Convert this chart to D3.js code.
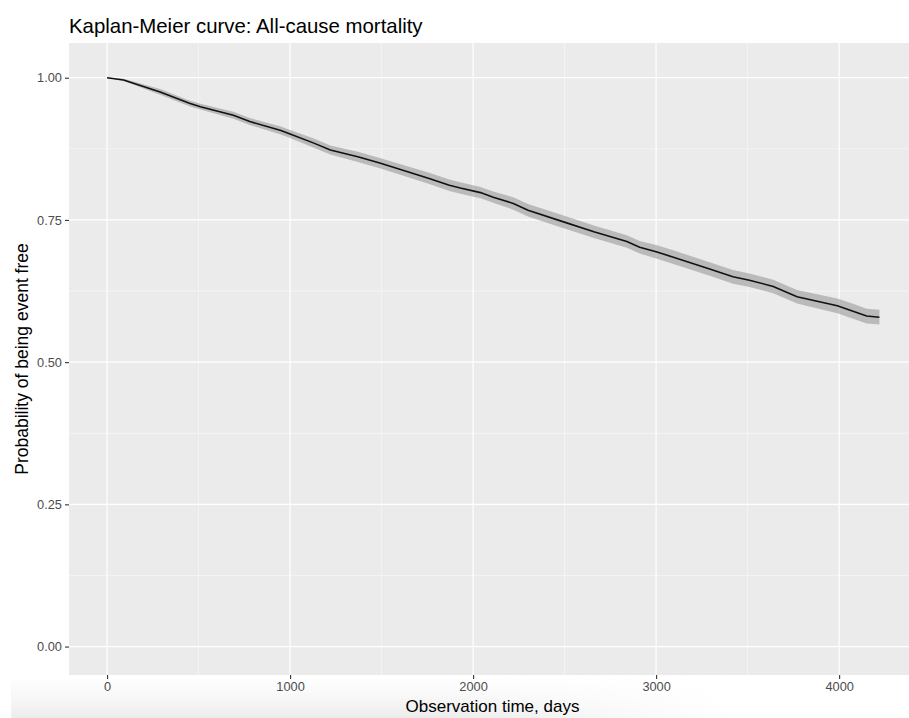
<!DOCTYPE html>
<html>
<head>
<meta charset="utf-8">
<script src="https://cdn.jsdelivr.net/npm/d3@7"></script>
<style>
  body { margin: 0; background: #ffffff; }
  svg { display: block; font-family: 'Liberation Sans', Arial, sans-serif; }
</style>
</head>
<body>
<div id="chart"></div>
<script>
// survival estimates
var days = [0, 90, 290, 450, 510, 690, 780, 950, 1000, 1130, 1220, 1370, 1490, 1760, 1870, 1930,
    2040, 2110, 2220, 2300, 2490, 2660, 2840, 2910, 3000, 3090, 3280, 3420, 3510, 3640, 3770,
    3990, 4080, 4150, 4220];
var survival = [1.000, 0.996, 0.975, 0.955, 0.949, 0.934, 0.923, 0.907, 0.901, 0.885, 0.873, 0.861,
    0.850, 0.823, 0.811, 0.806, 0.798, 0.790, 0.779, 0.767, 0.747, 0.729, 0.712, 0.702, 0.694,
    0.685, 0.665, 0.650, 0.644, 0.633, 0.615, 0.599, 0.589, 0.581, 0.579];
var lower = [1.000, 0.994, 0.970, 0.950, 0.944, 0.928, 0.917, 0.900, 0.894, 0.877, 0.865, 0.852,
    0.841, 0.813, 0.801, 0.796, 0.788, 0.780, 0.768, 0.756, 0.736, 0.718, 0.701, 0.691, 0.682,
    0.673, 0.653, 0.638, 0.632, 0.621, 0.603, 0.586, 0.576, 0.568, 0.566];
var upper = [1.000, 0.998, 0.980, 0.960, 0.954, 0.940, 0.929, 0.914, 0.908, 0.893, 0.881, 0.870,
    0.859, 0.833, 0.821, 0.816, 0.808, 0.800, 0.790, 0.778, 0.758, 0.740, 0.723, 0.713, 0.706,
    0.697, 0.677, 0.662, 0.656, 0.645, 0.627, 0.612, 0.602, 0.594, 0.592];

var xTicks = [0, 1000, 2000, 3000, 4000];
var xMinor = [500, 1500, 2500, 3500];
var yTicks = [0, 0.25, 0.5, 0.75, 1];
var yMinor = [0.125, 0.375, 0.625, 0.875];

var width = 909, height = 718;
var panel = { left: 69, top: 43, right: 916, bottom: 675 };

var svg = d3.select('#chart')
    .append('svg')
    .attr('width', width)
    .attr('height', height);

var x = d3.scaleLinear().domain([-208, 4420]).range([panel.left, panel.right]);
var y = d3.scaleLinear().domain([-0.05, 1.061]).range([panel.bottom, panel.top]);

// faint shadow along the bottom of the screenshot
var defs = svg.append('defs');
var grad = defs.append('linearGradient')
    .attr('id', 'shade').attr('x1', 0).attr('y1', 0).attr('x2', 0).attr('y2', 1);
grad.append('stop').attr('offset', '0%').attr('stop-color', '#f2f2f2').attr('stop-opacity', 0);
grad.append('stop').attr('offset', '100%').attr('stop-color', '#ececec').attr('stop-opacity', 1);
var fade = defs.append('linearGradient')
    .attr('id', 'fade').attr('x1', 0).attr('y1', 0).attr('x2', 1).attr('y2', 0);
fade.append('stop').attr('offset', '0%').attr('stop-color', '#fff').attr('stop-opacity', 1);
fade.append('stop').attr('offset', '60%').attr('stop-color', '#fff').attr('stop-opacity', 1);
fade.append('stop').attr('offset', '100%').attr('stop-color', '#fff').attr('stop-opacity', 0);
var mask = defs.append('mask').attr('id', 'shadeMask');
mask.append('rect').attr('x', 11).attr('y', 677).attr('width', 720).attr('height', 41)
    .attr('fill', 'url(#fade)');
svg.append('rect')
    .attr('x', 11).attr('y', 677).attr('width', 720).attr('height', 41)
    .attr('fill', 'url(#shade)')
    .attr('mask', 'url(#shadeMask)');

// panel background
svg.append('rect')
    .attr('x', panel.left)
    .attr('y', panel.top)
    .attr('width', panel.right - panel.left)
    .attr('height', panel.bottom - panel.top)
    .attr('fill', '#ebebeb');

var grid = svg.append('g');
grid.selectAll('.xminor').data(xMinor).enter().append('line')
    .attr('x1', function (d) { return x(d); }).attr('x2', function (d) { return x(d); })
    .attr('y1', panel.top).attr('y2', panel.bottom)
    .attr('stroke', '#fafafa').attr('stroke-width', 0.6);
grid.selectAll('.yminor').data(yMinor).enter().append('line')
    .attr('y1', function (d) { return y(d); }).attr('y2', function (d) { return y(d); })
    .attr('x1', panel.left).attr('x2', panel.right)
    .attr('stroke', '#fafafa').attr('stroke-width', 0.6);
grid.selectAll('.xmajor').data(xTicks).enter().append('line')
    .attr('x1', function (d) { return x(d); }).attr('x2', function (d) { return x(d); })
    .attr('y1', panel.top).attr('y2', panel.bottom)
    .attr('stroke', '#ffffff').attr('stroke-width', 1.2);
grid.selectAll('.ymajor').data(yTicks).enter().append('line')
    .attr('y1', function (d) { return y(d); }).attr('y2', function (d) { return y(d); })
    .attr('x1', panel.left).attr('x2', panel.right)
    .attr('stroke', '#ffffff').attr('stroke-width', 1.2);

var rows = days.map(function (d, i) {
    return { t: d, s: survival[i], lo: lower[i], hi: upper[i] };
});

var band = d3.area()
    .x(function (d) { return x(d.t); })
    .y0(function (d) { return y(d.lo); })
    .y1(function (d) { return y(d.hi); });
svg.append('path')
    .datum(rows)
    .attr('d', band)
    .attr('fill', '#9a9a9a')
    .attr('fill-opacity', 0.6);

var line = d3.line()
    .x(function (d) { return x(d.t); })
    .y(function (d) { return y(d.s); });
svg.append('path')
    .datum(rows)
    .attr('d', line)
    .attr('fill', 'none')
    .attr('stroke', '#111')
    .attr('stroke-width', 1.6);

// axes
var xAxis = svg.append('g')
    .attr('transform', 'translate(0,' + panel.bottom + ')')
    .call(d3.axisBottom(x).tickValues(xTicks).tickSize(4).tickPadding(3).tickFormat(d3.format('d')));
var yAxis = svg.append('g')
    .attr('transform', 'translate(' + panel.left + ',0)')
    .call(d3.axisLeft(y).tickValues(yTicks).tickSize(4).tickPadding(3).tickFormat(d3.format('.2f')));
[xAxis, yAxis].forEach(function (a) {
    a.select('.domain').remove();
    a.selectAll('line').attr('stroke', '#333').attr('stroke-width', 1.1);
    a.selectAll('text').attr('fill', '#4d4d4d').style('font-size', '12.8px')
        .style('font-family', "'Liberation Sans', Arial, sans-serif");
});

svg.append('text')
    .attr('x', panel.left)
    .attr('y', 33)
    .attr('fill', '#000')
    .style('font-size', '20.4px')
    .text('Kaplan-Meier curve: All-cause mortality');

svg.append('text')
    .attr('x', (panel.left + panel.right) / 2)
    .attr('y', 712)
    .attr('text-anchor', 'middle')
    .attr('fill', '#000')
    .style('font-size', '17px')
    .text('Observation time, days');

svg.append('text')
    .attr('transform', 'translate(27.5,' + ((panel.top + panel.bottom) / 2) + ') rotate(-90)')
    .attr('text-anchor', 'middle')
    .attr('fill', '#000')
    .style('font-size', '17.5px')
    .text('Probability of being event free');
</script>
</body>
</html>
